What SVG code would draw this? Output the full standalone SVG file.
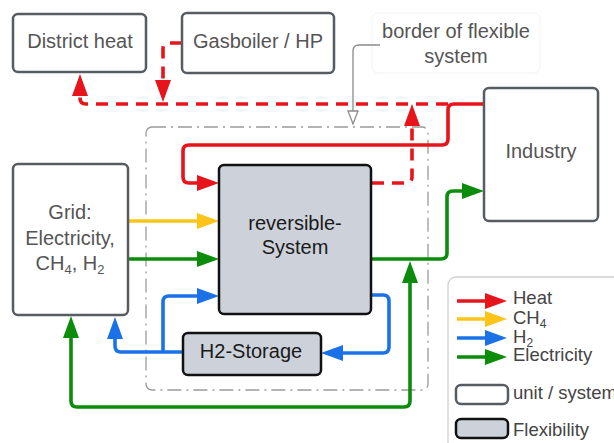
<svg xmlns="http://www.w3.org/2000/svg" width="614" height="443" viewBox="0 0 614 443">
<style>
text{font-family:"Liberation Sans",Arial,sans-serif;}
.unit{fill:#fff;stroke:#575c63;stroke-width:2.5;}
.flex{fill:#cdd2da;stroke:#111;stroke-width:2.5;}
.t{font-size:20px;fill:#555;text-anchor:middle;}
.tb{font-size:20px;fill:#1a1a1a;text-anchor:middle;}
.lg{font-size:18.5px;fill:#444;}
.c{fill:none;stroke-width:3.6;stroke-linejoin:round;}
.red{stroke:#e8141c;}
.yel{stroke:#fcc419;}
.blu{stroke:#1b72e8;}
.grn{stroke:#0b8c0b;}
.dash{stroke-dasharray:12 8;}
</style>
<defs>
<marker id="ar" markerUnits="userSpaceOnUse" markerWidth="22" markerHeight="16" refX="17" refY="8" orient="auto-start-reverse"><path d="M0,0 L22,8 L0,16 z" fill="#e8141c"/></marker>
<marker id="ay" markerUnits="userSpaceOnUse" markerWidth="22" markerHeight="16" refX="17" refY="8" orient="auto-start-reverse"><path d="M0,0 L22,8 L0,16 z" fill="#fcc419"/></marker>
<marker id="ab" markerUnits="userSpaceOnUse" markerWidth="22" markerHeight="16" refX="17" refY="8" orient="auto-start-reverse"><path d="M0,0 L22,8 L0,16 z" fill="#1b72e8"/></marker>
<marker id="ag" markerUnits="userSpaceOnUse" markerWidth="22" markerHeight="16" refX="17" refY="8" orient="auto-start-reverse"><path d="M0,0 L22,8 L0,16 z" fill="#0b8c0b"/></marker>
</defs>
<rect width="614" height="443" fill="#fff"/>

<g id="border">
<rect x="146" y="127" width="282" height="263" rx="6" fill="none" stroke="#9a9a9a" stroke-width="1.3" stroke-dasharray="14 5 2 5"/>
</g>

<g id="callout">
<rect x="372" y="13" width="168" height="60" rx="6" fill="#fff" stroke="#f2f2f2" stroke-width="1"/>
<text class="t" x="456" y="38">border of flexible</text>
<text class="t" x="456" y="63">system</text>
<path d="M380,45 H359 Q353,45 353,51 V111" fill="none" stroke="#8a8a8a" stroke-width="1.3"/>
<path d="M348,111 L358,111 L353,124 z" fill="#fff" stroke="#8a8a8a" stroke-width="1.3"/>
</g>

<g id="connectors">
<path class="c red" d="M484,104 H454 Q448,104 448,110 V139 Q448,145 442,145 H189 Q183,145 183,151 V177 Q183,183 189,183 H214" marker-end="url(#ar)"/>
<path class="c red dash" d="M448,104 H86 Q80,104 80,98 V79" marker-end="url(#ar)"/>
<path class="c red dash" d="M182,43 H169 Q163,43 163,49 V97" marker-end="url(#ar)"/>
<path class="c red dash" d="M372,183 H406 Q412,183 412,177 V109" marker-end="url(#ar)"/>
<path class="c yel" d="M128,221 H214" marker-end="url(#ay)"/>
<path class="c grn" d="M128,259 H214" marker-end="url(#ag)"/>
<path class="c grn" d="M371,259 H441 Q447,259 447,253 V197 Q447,191 453,191 H479" marker-end="url(#ag)"/>
<path class="c grn" d="M71,321 V401 Q71,407 77,407 H404 Q410,407 410,401 V266" marker-start="url(#ag)" marker-end="url(#ag)"/>
<path class="c blu" d="M183,352 H121 Q115,352 115,346 V322" marker-end="url(#ab)"/>
<path class="c blu" d="M163,352 V302 Q163,296 169,296 H214" marker-end="url(#ab)"/>
<path class="c blu" d="M371,295 H383 Q389,295 389,301 V347 Q389,353 383,353 H326" marker-end="url(#ab)"/>
</g>

<g id="district-heat">
<rect class="unit" x="13" y="14" width="133" height="58" rx="5"/>
<text class="t" x="80" y="48" fill="#444">District heat</text>
</g>
<g id="gasboiler">
<rect class="unit" x="182" y="13" width="152" height="60" rx="5"/>
<text class="t" x="258" y="48">Gasboiler / HP</text>
</g>
<g id="industry">
<rect class="unit" x="484" y="88" width="114" height="133" rx="5"/>
<text class="t" x="541" y="158">Industry</text>
</g>
<g id="grid">
<rect class="unit" x="13" y="164" width="115" height="151" rx="5"/>
<text class="t" x="70" y="219">Grid:</text>
<text class="t" x="70" y="245">Electricity,</text>
<text class="t" x="70" y="270">CH<tspan font-size="13" dy="4">4</tspan><tspan dy="-4">, H</tspan><tspan font-size="13" dy="4">2</tspan></text>
</g>
<g id="reversible-system">
<rect class="flex" x="219" y="165" width="152" height="149" rx="5"/>
<text class="tb" x="295" y="230">reversible-</text>
<text class="tb" x="295" y="254">System</text>
</g>
<g id="h2-storage">
<rect class="flex" x="183" y="333" width="138" height="42" rx="5"/>
<text class="tb" x="251" y="358">H2-Storage</text>
</g>

<g id="legend">
<rect x="448" y="277" width="180" height="180" rx="8" fill="#fff" stroke="#d0d0d0" stroke-width="1.3"/>
<path class="c red" d="M457,301 H502" marker-end="url(#ar)"/>
<path class="c yel" d="M457,319 H502" marker-end="url(#ay)"/>
<path class="c blu" d="M457,338 H502" marker-end="url(#ab)"/>
<path class="c grn" d="M457,357 H502" marker-end="url(#ag)"/>
<text class="lg" x="513" y="304">Heat</text>
<text class="lg" x="513" y="324">CH<tspan font-size="12" dy="4">4</tspan></text>
<text class="lg" x="513" y="343">H<tspan font-size="12" dy="4">2</tspan></text>
<text class="lg" x="513" y="361">Electricity</text>
<rect class="unit" x="456" y="385" width="52" height="19" rx="5"/>
<text class="lg" x="513" y="399">unit / system</text>
<rect class="flex" x="456" y="419" width="52" height="19" rx="5"/>
<text class="lg" x="513" y="436">Flexibility</text>
</g>
</svg>
